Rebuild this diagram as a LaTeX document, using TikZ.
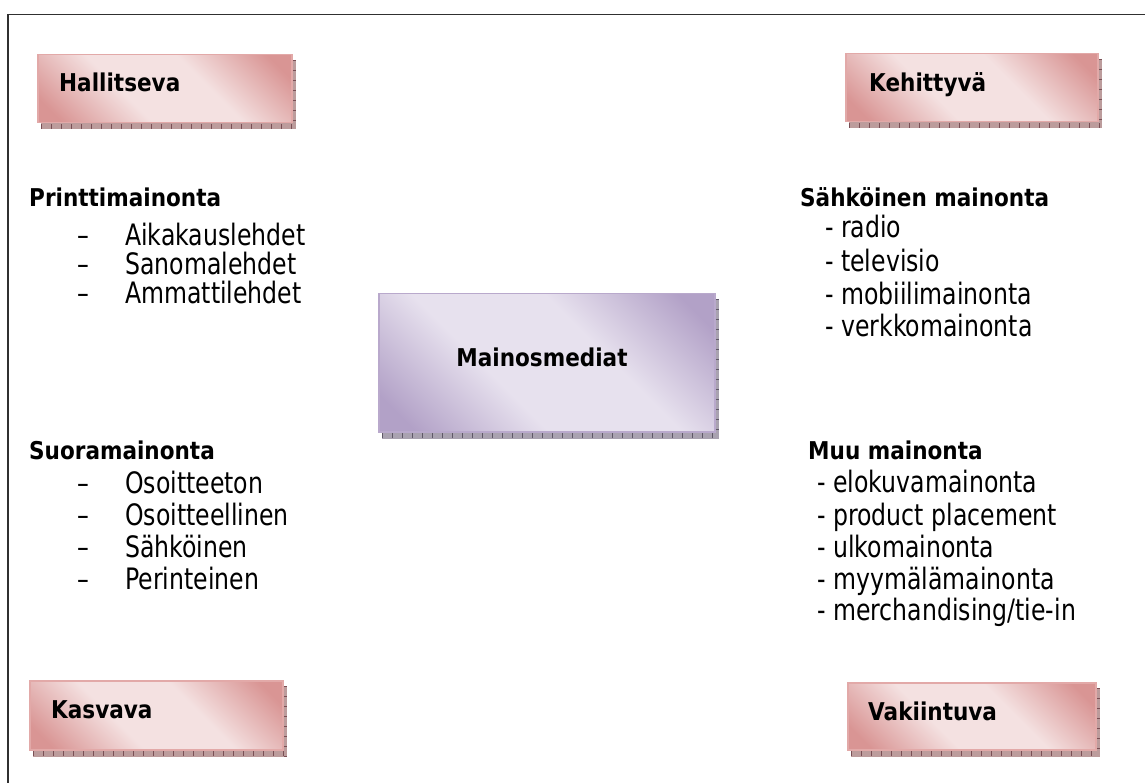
\documentclass[tikz,border=0pt]{standalone}
\usepackage{fontspec}
\setmainfont{DejaVu Sans}[FakeStretch=0.8]
\newfontfamily\headfont{DejaVu Sans}[FakeStretch=0.88]
\usetikzlibrary{backgrounds}

\definecolor{pinkdark}{HTML}{D99594}
\definecolor{pinklight}{HTML}{F4E1E1}
\definecolor{pinkedge}{HTML}{E2A9A8}
\definecolor{lilacdark}{HTML}{B2A1C7}
\definecolor{lilaclight}{HTML}{E7E1EE}
\definecolor{lilacedge}{HTML}{B9A9CC}
\definecolor{pinkshadow}{HTML}{BC9C9C}
\definecolor{pinktick}{HTML}{7A4F55}
\definecolor{lilacshadow}{HTML}{A9A2B0}
\definecolor{lilactick}{HTML}{5F5868}
\definecolor{frameline}{HTML}{303030}

% glossy fills: dark corners, a broad light band across the diagonal
\pgfdeclareverticalshading{pinkgloss}{100bp}{%
  color(0bp)=(pinkdark); color(20bp)=(pinkdark); color(40bp)=(pinklight);
  color(60bp)=(pinklight); color(80bp)=(pinkdark); color(100bp)=(pinkdark)}
\pgfdeclareverticalshading{lilacgloss}{100bp}{%
  color(0bp)=(lilacdark); color(20bp)=(lilacdark); color(40bp)=(lilaclight);
  color(60bp)=(lilaclight); color(80bp)=(lilacdark); color(100bp)=(lilacdark)}

% offset, patterned shadow under a box node
\newcommand\castshadow[3]{%
  \fill[#2] ([shift={(4,0)}]#1.south west) rectangle ([shift={(3,6)}]#1.south east);
  \fill[#2] ([shift={(0,6)}]#1.north east) rectangle ([shift={(3,6)}]#1.south east);
  \draw[#3, line width=5pt, dash pattern=on 0.8pt off 9.2pt]
    ([shift={(4,3)}]#1.south west) -- ([shift={(3,3)}]#1.south east);
  \draw[#3, line width=3pt, dash pattern=on 0.8pt off 9.2pt]
    ([shift={(1.5,6)}]#1.north east) -- ([shift={(1.5,6)}]#1.south east);
}

\begin{document}
\begin{tikzpicture}[x=1pt,y=-1pt,
  catbox/.style={draw=pinkedge, line width=1.5pt,
    shading=pinkgloss, shading angle=-45, minimum width=254pt, minimum height=68pt,
    anchor=north west, inner sep=0pt},
  hubbox/.style={draw=lilacedge, line width=1.5pt,
    shading=lilacgloss, shading angle=-45, minimum width=336pt, minimum height=138pt,
    anchor=north west, inner sep=0pt},
  boxlabel/.style={anchor=base west, inner sep=0pt,
    font=\headfont\bfseries\fontsize{24.5}{28}\selectfont},
  hublabel/.style={anchor=base, inner sep=0pt,
    font=\headfont\bfseries\fontsize{24.5}{28}\selectfont},
  heading/.style={anchor=base west, inner sep=0pt,
    font=\headfont\bfseries\fontsize{24.5}{28}\selectfont},
  entry/.style={anchor=base west, inner sep=0pt,
    font=\fontsize{29.5}{32}\selectfont},
]
\useasboundingbox (0,0) rectangle (1145,783);

% open frame: left and top edges only
\coordinate (frameBL) at (8,783);
\coordinate (frameTL) at (8,14.5);
\coordinate (frameTR) at (1145,14.5);
\draw[frameline, line width=1.5pt] (frameBL) -- (frameTL) -- (frameTR);

% corner category boxes
\node[catbox] (hall) at (37,54) {};
\node[catbox, minimum width=252pt] (kehi) at (845,53) {};
\node[catbox, minimum width=253pt, minimum height=69pt] (kasv) at (29,680) {};
\node[catbox, minimum width=248pt, minimum height=67pt] (vaki) at (847,682) {};
\node[boxlabel] (hallT) at (59,92) {Hallitseva};
\node[boxlabel] (kehiT) at (869,92) {Kehittyvä};
\node[boxlabel] (kasvT) at (51,718) {Kasvava};
\node[boxlabel] (vakiT) at (868,720) {Vakiintuva};

% central box
\node[hubbox] (hub) at (378,293) {};
\node[hublabel] (hubT) at (542,366) {Mainosmediat};

\begin{scope}[on background layer]
  \castshadow{hall}{pinkshadow}{pinktick}
  \castshadow{kehi}{pinkshadow}{pinktick}
  \castshadow{kasv}{pinkshadow}{pinktick}
  \castshadow{vaki}{pinkshadow}{pinktick}
  \castshadow{hub}{lilacshadow}{lilactick}
\end{scope}

% print advertising
\node[heading] (printH) at (29,207) {Printtimainonta};
\node[entry] (p1d) at (77,246) {–};
\node[entry] (p1) at (125,246) {Aikakauslehdet};
\node[entry] (p2d) at (77,275) {–};
\node[entry] (p2) at (125,275) {Sanomalehdet};
\node[entry] (p3d) at (77,304) {–};
\node[entry] (p3) at (125,304) {Ammattilehdet};

% direct advertising
\node[heading] (directH) at (29,459) {Suoramainonta};
\node[entry] (d1d) at (77,493) {–};
\node[entry] (d1) at (125,493) {Osoitteeton};
\node[entry] (d2d) at (77,525) {–};
\node[entry] (d2) at (125,525) {Osoitteellinen};
\node[entry] (d3d) at (77,557) {–};
\node[entry] (d3) at (125,557) {Sähköinen};
\node[entry] (d4d) at (77,589) {–};
\node[entry] (d4) at (125,589) {Perinteinen};

% electronic advertising
\node[heading] (elecH) at (800,207) {Sähköinen mainonta};
\node[entry] (e1) at (825,238) {- radio};
\node[entry] (e2) at (825,272) {- televisio};
\node[entry] (e3) at (825,305) {- mobiilimainonta};
\node[entry] (e4) at (825,337) {- verkkomainonta};

% other advertising
\node[heading] (otherH) at (808,459) {Muu mainonta};
\node[entry] (o1) at (817,492) {- elokuvamainonta};
\node[entry] (o2) at (817,525) {- product placement};
\node[entry] (o3) at (817,557) {- ulkomainonta};
\node[entry] (o4) at (817,589) {- myymälämainonta};
\node[entry] (o5) at (817,620) {- merchandising/tie-in};
\end{tikzpicture}
\end{document}
